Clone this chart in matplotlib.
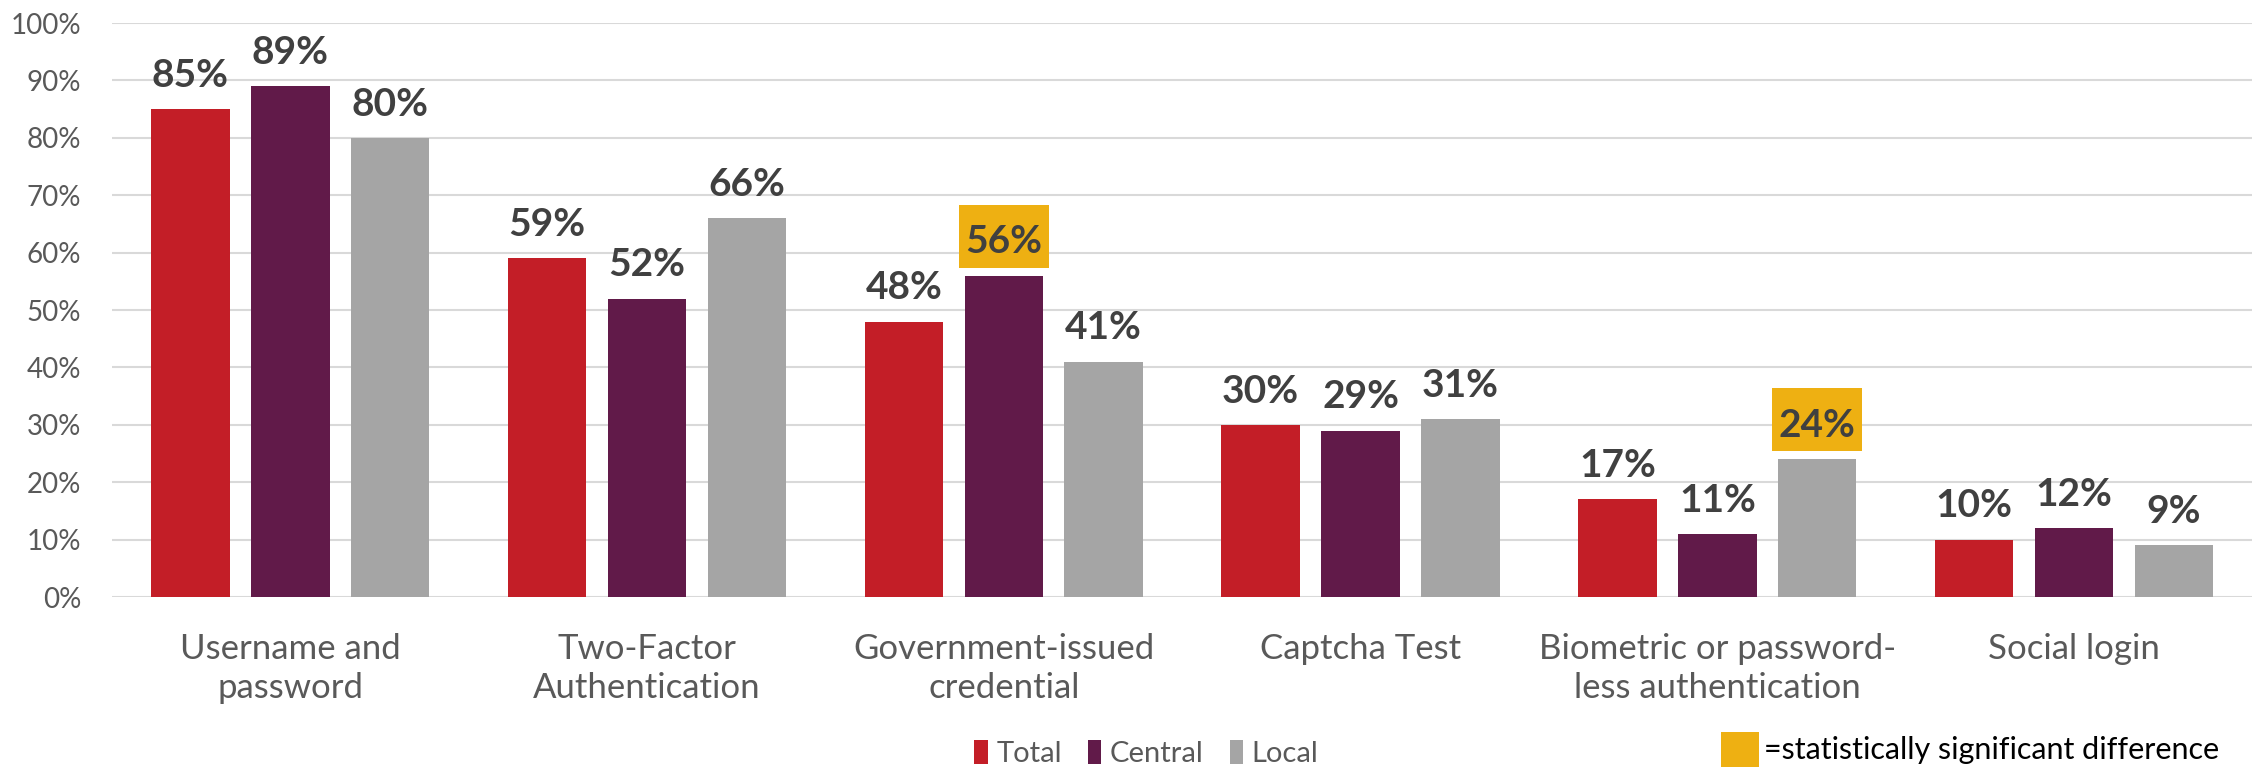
import matplotlib.pyplot as plt
import numpy as np
from matplotlib.patches import Rectangle

categories = ['Username and\npassword', 'Two-Factor\nAuthentication', 'Government-issued\ncredential',
              'Captcha Test', 'Biometric or password-\nless authentication', 'Social login']
series = ['Total', 'Central', 'Local']
total = [85, 59, 48, 30, 17, 10]
central = [89, 52, 56, 29, 11, 12]
local = [80, 66, 41, 31, 24, 9]
# (series index, category index) of statistically significant differences
significant = [(1, 2), (2, 4)]

colors = ['#C31E27', '#611A49', '#A5A5A5']
gold = '#EEB012'

plt.rcParams['font.family'] = ['Lato', 'DejaVu Sans']

fig = plt.figure(figsize=(22.57, 7.67), dpi=100)
ax = fig.add_axes([0.0496, 0.2216, 0.9484, 0.7484])
ax.set_xlim(-0.5, len(categories) - 0.5)
ax.set_ylim(0, 100)

# pixel -> data unit conversion for the highlight boxes
bb = ax.get_window_extent()
px_x = bb.width / len(categories)
px_y = bb.height / 100

x = np.arange(len(categories))
slot = 0.28
width = 0.22
values = [total, central, local]
for i, (name, vals) in enumerate(zip(series, values)):
    pos = x + (i - 1) * slot
    ax.bar(pos, vals, width, color=colors[i], label=name, zorder=2)
    for j, v in enumerate(vals):
        if (i, j) in significant:
            bw = 90 / px_x
            ax.add_patch(Rectangle((pos[j] - bw / 2, v + 8 / px_y), bw, 63 / px_y,
                                   fc=gold, ec='none', zorder=3))
        ax.annotate(f'{v}%', (pos[j], v), xytext=(0, 16), textcoords='offset points',
                    ha='center', va='baseline', fontsize=28, fontweight='bold',
                    color='#404040', zorder=4)

ax.set_yticks(range(0, 101, 10))
ax.set_yticklabels([f'{t}%' for t in range(0, 101, 10)])
ax.set_xticks(x)
ax.set_xticklabels(categories, linespacing=1.25)
ax.tick_params(axis='y', length=0, pad=22, labelsize=20, labelcolor='#595959')
ax.tick_params(axis='x', length=0, pad=26, labelsize=25, labelcolor='#595959')
ax.grid(axis='y', color='#D9D9D9', linewidth=1.5, zorder=0)
ax.set_axisbelow(True)
for s in ax.spines.values():
    s.set_visible(False)

fig.legend(loc='center', bbox_to_anchor=(0.508, 0.018), ncol=3, frameon=False,
           fontsize=21, handlelength=0.45, handleheight=0.9, handletextpad=0.3,
           columnspacing=0.9, labelcolor='#595959')

# key for the highlighted labels
fig.patches.append(Rectangle((1721 / 2257, 0.0), 38 / 2257, 35 / 767,
                             transform=fig.transFigure, fc=gold, ec='none'))
fig.text(1764 / 2257, 0.022, '=statistically significant difference', fontsize=22,
         color='black', va='center', ha='left')

fig.savefig('out.png', dpi=100)
